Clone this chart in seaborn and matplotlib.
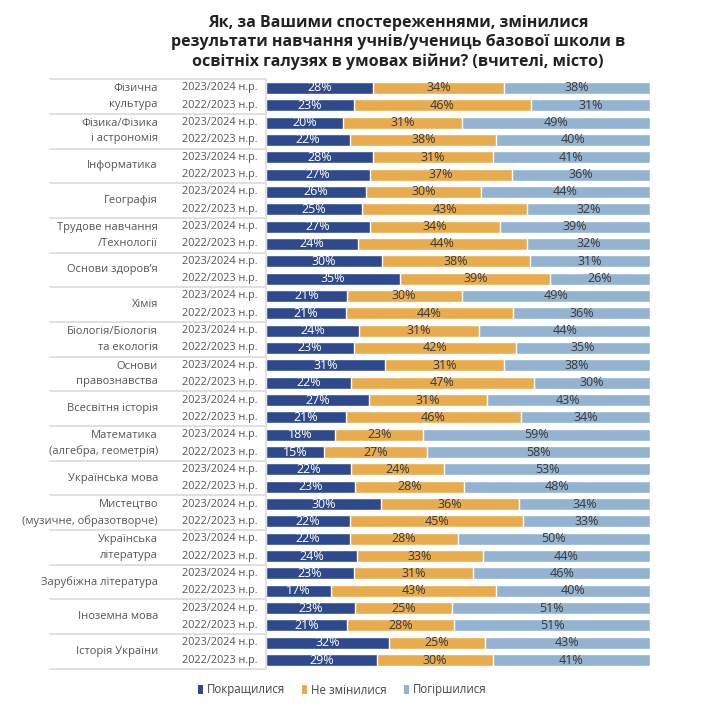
import pandas as pd
import seaborn as sns
import matplotlib.pyplot as plt
import matplotlib.transforms as mtransforms
from matplotlib.patches import Patch

sns.set_theme(style="white")
plt.rcParams["font.family"] = ["Open Sans", "DejaVu Sans"]

# data
subjects = [
    "Фізична\nкультура",
    "Фізика/Фізика\nі астрономія",
    "Інформатика",
    "Географія",
    "Трудове навчання\n/Технології",
    "Основи здоров’я",
    "Хімія",
    "Біологія/Біологія\nта екологія",
    "Основи\nправознавства",
    "Всесвітня історія",
    "Математика\n(алгебра, геометрія)",
    "Українська мова",
    "Мистецтво\n(музичне, образотворче)",
    "Українська\nлітература",
    "Зарубіжна література",
    "Іноземна мова",
    "Історія України",
]
periods = ["2023/2024 н.р.", "2022/2023 н.р."]

improved_2324 = [28, 20, 28, 26, 27, 30, 21, 24, 31, 27, 18, 22, 30, 22, 23, 23, 32]
same_2324 = [34, 31, 31, 30, 34, 38, 30, 31, 31, 31, 23, 24, 36, 28, 31, 25, 25]
worse_2324 = [38, 49, 41, 44, 39, 31, 49, 44, 38, 43, 59, 53, 34, 50, 46, 51, 43]

improved_2223 = [23, 22, 27, 25, 24, 35, 21, 23, 22, 21, 15, 23, 22, 24, 17, 21, 29]
same_2223 = [46, 38, 37, 43, 44, 39, 44, 42, 47, 46, 27, 28, 45, 33, 43, 28, 30]
worse_2223 = [31, 40, 36, 32, 32, 26, 36, 35, 30, 34, 58, 48, 33, 44, 40, 51, 41]

series = ["Покращилися", "Не змінилися", "Погіршилися"]
colors = ["#2f4a8c", "#e8ac4e", "#93b3d1"]

# long table, one row per bar
rows = []
for i, subj in enumerate(subjects):
    for p, vals in zip(periods, [(improved_2324[i], same_2324[i], worse_2324[i]),
                                 (improved_2223[i], same_2223[i], worse_2223[i])]):
        rows.append({"key": f"{i}|{p}", "subject": subj, "period": p,
                     "imp": vals[0], "same": vals[1], "worse": vals[2]})
df = pd.DataFrame(rows)
total = df[["imp", "same", "worse"]].sum(axis=1)
df["c1"] = df["imp"] / total * 100
df["c2"] = (df["imp"] + df["same"]) / total * 100
df["c3"] = 100.0
order = df["key"].tolist()

fig = plt.figure(figsize=(7.1, 7.13), dpi=100)
ax = fig.add_axes([0.3746, 0.0621, 0.5409, 0.8267])

# stacked bars drawn as layered cumulative bars
for col, c in zip(["c3", "c2", "c1"], colors[::-1]):
    sns.barplot(data=df, x=col, y="key", order=order, color=c, width=0.7,
                saturation=1, orient="h", ax=ax)

ax.set_xlim(0, 100)
ax.set_ylim(len(order) - 0.5, -0.5)
ax.set_xlabel("")
ax.set_ylabel("")
ax.set_xticks([])
ax.set_yticks([])
for s in ["top", "right", "bottom"]:
    ax.spines[s].set_visible(False)
ax.spines["left"].set_color("#dddddd")

# value labels
for y, r in df.iterrows():
    starts = [0, r["c1"], r["c2"]]
    ends = [r["c1"], r["c2"], 100]
    for v, s0, s1, tc in zip([r["imp"], r["same"], r["worse"]], starts, ends,
                             ["white", "#3a3a3a", "#3a3a3a"]):
        ax.text((s0 + s1) / 2, y, f"{v}%", ha="center", va="center",
                fontsize=9, color=tc)

# left labels
trans = mtransforms.blended_transform_factory(fig.transFigure, ax.transData)
for y, r in df.iterrows():
    ax.text(257 / 710, y, r["period"], transform=trans, ha="right", va="center",
            fontsize=7.8, color="#555555")
for i, subj in enumerate(subjects):
    ax.text(158 / 710, 2 * i + 0.5, subj, transform=trans, ha="right",
            va="center", fontsize=8, color="#555555", linespacing=1.55)
for k in range(len(subjects) + 1):
    ax.plot([50 / 710, 265 / 710], [2 * k - 0.5, 2 * k - 0.5], transform=trans,
            color="#dddddd", lw=1.3, clip_on=False)

fig.text(398 / 710, 1 - 15 / 713,
         "Як, за Вашими спостереженнями, змінилися\n"
         "результати навчання учнів/учениць базової школи в\n"
         "освітніх галузях в умовах війни? (вчителі, місто)",
         ha="center", va="top", fontsize=11.5, fontweight="bold",
         color="#222222", linespacing=1.25)

handles = [Patch(facecolor=c, edgecolor="none") for c in colors]
fig.legend(handles, series, loc="center", bbox_to_anchor=(342 / 710, 1 - 690 / 713),
           ncol=3, frameon=False, fontsize=8.3, handlelength=0.45, handleheight=0.7,
           handletextpad=0.3, columnspacing=1.5, labelcolor="#444444")

fig.savefig("out.png", dpi=100, facecolor="white")
